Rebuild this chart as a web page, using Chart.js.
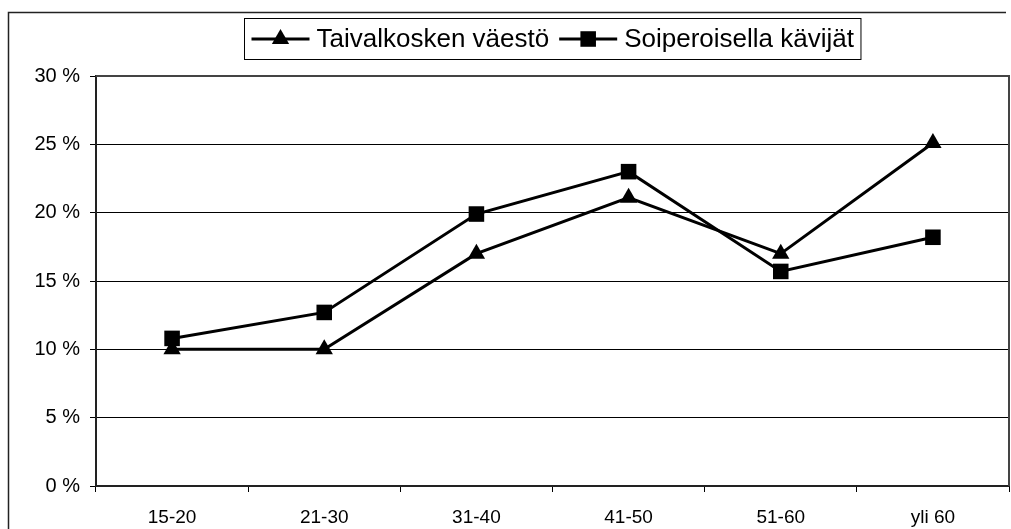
<!DOCTYPE html>
<html>
<head>
<meta charset="utf-8">
<script src="https://cdn.jsdelivr.net/npm/chart.js@4/dist/chart.umd.min.js"></script>
<style>
  html, body { margin: 0; padding: 0; background: #fff; }
  #wrap { width: 1011px; height: 529px; }
</style>
</head>
<body>
<div id="wrap"><canvas id="myChart" width="1011" height="529"></canvas></div>
<script>
var categories = ["15-20", "21-30", "31-40", "41-50", "51-60", "yli 60"];
var vaesto = [10, 10, 17, 21.1, 17, 25.1];
var kavijat = [10.8, 12.7, 19.9, 23, 15.7, 18.2];
var seriesNames = ["Taivalkosken väestö", "Soiperoisella kävijät"];
var yTicks = [0, 5, 10, 15, 20, 25, 30];

var font = "'Liberation Sans', Arial, Helvetica, sans-serif";

function marker(ctx, style, x, y, r) {
    ctx.beginPath();
    if (style === 'triangle') {
        ctx.moveTo(x, y - r);
        ctx.lineTo(x + Math.sin(Math.PI / 3) * r, y + r / 2);
        ctx.lineTo(x - Math.sin(Math.PI / 3) * r, y + r / 2);
    } else {
        var s = Math.SQRT1_2 * r;
        ctx.rect(x - s, y - s, 2 * s, 2 * s);
    }
    ctx.closePath();
    ctx.fill();
}

// frame round the whole chart, border of the plot and the boxed legend
var decor = {
    id: 'decor',
    beforeDraw: function (chart) {
        var ctx = chart.ctx;
        ctx.save();
        ctx.strokeStyle = '#222';
        ctx.lineWidth = 1.5;
        ctx.beginPath();
        ctx.moveTo(8.5, 529);
        ctx.lineTo(8.5, 12.5);
        ctx.lineTo(1006, 12.5);
        ctx.stroke();
        ctx.restore();
    },
    afterDraw: function (chart) {
        var ctx = chart.ctx;
        var a = chart.chartArea;
        ctx.save();
        ctx.strokeStyle = '#444';
        ctx.lineWidth = 2;
        ctx.beginPath();
        ctx.moveTo(a.left, a.top);
        ctx.lineTo(a.right, a.top);
        ctx.lineTo(a.right, a.bottom);
        ctx.stroke();

        // legend
        var styles = ['triangle', 'rect'];
        var radii = [10, 11];
        ctx.font = '26px ' + font;
        var lineLen = 58, gap = 7, itemGap = 10, pad = 7;
        var widths = seriesNames.map(function (n) { return ctx.measureText(n).width; });
        var total = pad * 2 + itemGap;
        widths.forEach(function (w) { total += lineLen + gap + w; });
        var cx = (a.left + a.right) / 2;
        var x = Math.round(cx - total / 2) + 0.5;
        var top = 18.5, h = 41, cy = top + h / 2;
        ctx.strokeStyle = '#000';
        ctx.lineWidth = 1;
        ctx.strokeRect(x, top, total, h);
        x += pad;
        ctx.fillStyle = '#000';
        ctx.textBaseline = 'middle';
        seriesNames.forEach(function (n, i) {
            ctx.lineWidth = 3;
            ctx.beginPath();
            ctx.moveTo(x, cy);
            ctx.lineTo(x + lineLen, cy);
            ctx.stroke();
            marker(ctx, styles[i], x + lineLen / 2, cy, radii[i]);
            x += lineLen + gap;
            ctx.fillText(n, x, cy + 1);
            x += widths[i] + itemGap;
        });
        ctx.restore();
    }
};

var ctx = document.getElementById("myChart").getContext("2d");

var myLineChart = new Chart(ctx, {
    type: 'line',
    data: {
        labels: categories,
        datasets: [{
            label: seriesNames[0],
            data: vaesto,
            borderColor: '#000',
            backgroundColor: '#000',
            borderWidth: 3,
            pointStyle: 'triangle',
            pointRadius: 10,
            pointBorderWidth: 0,
            tension: 0
        }, {
            label: seriesNames[1],
            data: kavijat,
            borderColor: '#000',
            backgroundColor: '#000',
            borderWidth: 3,
            pointStyle: 'rect',
            pointRadius: 11,
            pointBorderWidth: 0,
            tension: 0
        }]
    },
    options: {
        responsive: false,
        animation: false,
        layout: { autoPadding: false, padding: { top: 76, left: 8, right: 2, bottom: 0 } },
        plugins: {
            legend: { display: false },
            tooltip: { enabled: false }
        },
        scales: {
            x: {
                offset: true,
                grid: {
                    offset: true,
                    drawOnChartArea: false,
                    drawTicks: true,
                    tickLength: 6,
                    color: '#000'
                },
                border: { color: '#222', width: 2 },
                ticks: {
                    color: '#000',
                    padding: 14,
                    maxRotation: 0,
                    font: { family: font, size: 19 }
                },
                afterFit: function (scale) { scale.height = 43; }
            },
            y: {
                min: 0,
                max: 30,
                afterBuildTicks: function (scale) {
                    scale.ticks = yTicks.map(function (v) { return { value: v }; });
                },
                grid: {
                    color: '#000',
                    lineWidth: 1,
                    drawTicks: true,
                    tickLength: 6
                },
                border: { color: '#222', width: 2 },
                ticks: {
                    color: '#000',
                    padding: 10,
                    font: { family: font, size: 20 },
                    callback: function (v) { return v + ' %'; }
                },
                afterFit: function (scale) { scale.width = 88; }
            }
        }
    },
    plugins: [decor]
});
</script>
</body>
</html>
